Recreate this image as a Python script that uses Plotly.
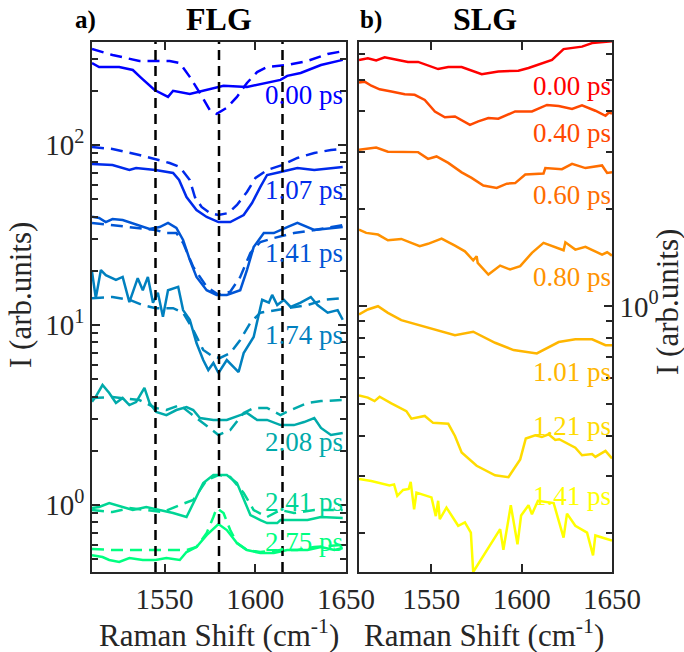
import numpy as np
import plotly.graph_objects as go

# ---------------- data ----------------
raman_ticks = [1550, 1600, 1650]
g_band_marks = [1545, 1580, 1615]

flg_delays = ["0.00 ps", "1.07 ps", "1.41 ps", "1.74 ps", "2.08 ps", "2.41 ps", "2.75 ps"]
slg_delays = ["0.00 ps", "0.40 ps", "0.60 ps", "0.80 ps", "1.01 ps", "1.21 ps", "1.41 ps"]

# FLG measured (solid) and fitted (dashed)
flg000_x = [1510, 1513.9, 1525.0, 1532.5, 1537.1, 1544.5, 1551.9, 1554.7, 1563.9, 1578.7, 1582.5, 1595.4, 1613.9, 1617.6, 1625.0, 1636.2, 1648.2]
flg000_y = [285, 271, 271, 261, 236, 202, 185, 200, 192, 207, 213, 210, 230, 242, 251, 278, 297]
flg000_fx = [1510, 1521.3, 1536.1, 1552.8, 1558.4, 1563.9, 1569.5, 1575.0, 1578.7, 1584.3, 1589.9, 1595.4, 1601.0, 1606.5, 1617.6, 1628.8, 1639.9, 1646.3]
flg000_fy = [341, 316, 293, 293, 285, 239, 194, 156, 149, 161, 185, 221, 254, 271, 278, 293, 320, 329]

flg107_x = [1510, 1521.3, 1530.6, 1534.3, 1545.0, 1551.0, 1554.7, 1558.0, 1562.1, 1567.6, 1573.2, 1579.7, 1586.2, 1593.6, 1598.2, 1602.8, 1606.5, 1613.9, 1623.2, 1632.5, 1641.7, 1648.2]
flg107_y = [78.4, 77.4, 72.6, 74.5, 72.6, 70.8, 69.9, 63.9, 51.4, 43.5, 39.8, 37.3, 37.3, 40.8, 47.6, 58.5, 68.1, 70.8, 74.5, 72.6, 74.5, 75.5]
flg107_fx = [1510, 1521.3, 1536.1, 1545.0, 1552.8, 1558.4, 1563.9, 1566.7, 1570.4, 1575.0, 1579.7, 1585.2, 1589.9, 1595.4, 1600.1, 1606.5, 1614.8, 1623.2, 1632.5, 1641.7, 1648.2]
flg107_fy = [97.5, 95, 88, 83.6, 79.4, 75.5, 63.9, 51.4, 45.3, 41.9, 40.8, 41.9, 46.4, 54.8, 65.6, 72.6, 77.4, 84.7, 90.3, 93.8, 95]

flg141_x = [1510, 1513.9, 1517.6, 1521.3, 1526.9, 1536.1, 1541.7, 1547.3, 1551.9, 1556.5, 1560.2, 1563.9, 1567.6, 1573.2, 1578.7, 1584.3, 1591.7, 1595.4, 1599.1, 1604.7, 1610.2, 1617.6, 1623.2, 1632.5, 1639.9, 1648.2]
flg141_y = [40, 39.3, 37.3, 38.8, 38.3, 35.9, 34.2, 35, 36.9, 34.6, 29.7, 23, 18.5, 15.6, 14.7, 14.7, 15.6, 20.2, 27.1, 32.4, 32.4, 35, 36.9, 33.7, 34.2, 35]
flg141_fx = [1510, 1521.3, 1536.1, 1545.0, 1551.0, 1556.5, 1560.2, 1565.8, 1573.2, 1579.7, 1586.2, 1591.7, 1597.3, 1602.8, 1610.2, 1621.3, 1632.5, 1648.2]
flg141_fy = [36.9, 35.9, 34.6, 33.7, 32.4, 32.4, 28.6, 21, 16.3, 14.7, 15.3, 18.5, 25.1, 28.9, 30.4, 32.4, 33.7, 35.9]

flg174_x = [1510, 1512.1, 1514.9, 1517.6, 1523.2, 1526.9, 1530.6, 1535.2, 1538.0, 1540.8, 1543.6, 1546.3, 1549.1, 1551.9, 1557.5, 1560.2, 1563.9, 1567.6, 1571.3, 1574.1, 1576.9, 1579.7, 1584.3, 1588.0, 1590.8, 1593.6, 1599.1, 1603.8, 1607.5, 1609.3, 1612.1, 1615.8, 1619.5, 1625.0, 1630.6, 1634.3, 1639.9, 1645.4, 1648.2]
flg174_y = [19.8, 14.1, 20.2, 18.9, 17.8, 18.5, 13.4, 18.2, 15.6, 18.5, 13.3, 15.1, 11.1, 15.6, 16.3, 12.1, 10.7, 7.94, 6.39, 5.62, 6.15, 5.41, 6.39, 5.84, 5.48, 6.98, 8.58, 13.8, 13.3, 14.7, 12.9, 13.8, 12.6, 13.3, 14.3, 12.9, 11.7, 12.1, 10.7]
flg174_fx = [1510, 1521.3, 1530.6, 1538.0, 1545.0, 1554.7, 1560.2, 1565.8, 1571.3, 1576.9, 1580.6, 1586.2, 1591.7, 1597.3, 1602.8, 1610.2, 1617.6, 1628.8, 1638.0, 1648.2]
flg174_fy = [14.1, 14.3, 13.8, 12.9, 12.4, 12.4, 11.7, 9.38, 7.27, 6.64, 6.56, 6.98, 8.26, 10.3, 11.7, 12.1, 12.4, 12.9, 13.8, 14.1]

flg208_x = [1510, 1512.1, 1515.8, 1519.5, 1523.2, 1526.9, 1530.6, 1534.3, 1538.9, 1541.7, 1545.4, 1551.0, 1556.5, 1562.1, 1565.8, 1569.5, 1576.9, 1584.3, 1591.7, 1595.4, 1601.0, 1606.5, 1613.9, 1621.3, 1626.9, 1632.5, 1636.2, 1641.7, 1648.2]
flg208_y = [3.75, 4.0, 4.64, 4.19, 3.69, 3.93, 3.59, 3.73, 4.47, 3.69, 3.29, 3.16, 3.37, 3.5, 3.37, 3.04, 2.97, 2.97, 3.16, 3.25, 2.97, 2.97, 2.78, 2.78, 2.89, 3.04, 2.68, 2.45, 2.51]
flg208_fx = [1510, 1521.3, 1536.1, 1545.0, 1551.0, 1558.4, 1563.9, 1571.3, 1579.7, 1586.2, 1593.6, 1599.1, 1606.5, 1613.9, 1619.5, 1628.8, 1636.2, 1648.2]
flg208_fy = [3.93, 3.98, 3.83, 3.46, 3.37, 3.59, 3.25, 2.86, 2.45, 2.61, 3.25, 3.46, 3.46, 3.16, 3.37, 3.69, 3.78, 3.83]

flg241_x = [1510, 1513.9, 1519.5, 1526.9, 1532.5, 1539.9, 1547.3, 1554.7, 1562.1, 1565.8, 1571.3, 1576.9, 1584.3, 1589.9, 1593.6, 1597.3, 1602.8, 1606.5, 1612.1, 1613.9, 1621.3, 1628.8, 1636.2, 1643.6, 1648.2]
flg241_y = [0.962, 0.975, 1.026, 0.975, 0.938, 0.975, 0.938, 0.903, 0.858, 1.026, 1.325, 1.468, 1.468, 1.325, 1.066, 0.880, 0.825, 0.794, 0.794, 0.825, 0.825, 0.825, 0.858, 0.847, 0.847]
flg241_fx = [1510, 1521.3, 1530.6, 1539.9, 1549.1, 1558.4, 1565.8, 1573.2, 1579.7, 1586.2, 1593.6, 1599.1, 1606.5, 1613.9, 1621.3, 1632.5, 1648.2]
flg241_fy = [0.938, 0.914, 0.962, 0.938, 0.914, 1.0, 1.066, 1.377, 1.468, 1.431, 1.166, 0.938, 0.858, 0.938, 0.903, 0.938, 0.938]

flg275_x = [1510, 1515.8, 1519.5, 1525.0, 1530.6, 1538.0, 1545.0, 1551.0, 1558.4, 1562.1, 1567.6, 1573.2, 1579.7, 1584.3, 1589.9, 1595.4, 1602.8, 1610.2, 1617.6, 1628.8, 1636.2, 1643.6, 1648.2]
flg275_y = [0.527, 0.514, 0.495, 0.483, 0.508, 0.495, 0.495, 0.508, 0.495, 0.548, 0.585, 0.681, 0.784, 0.726, 0.615, 0.562, 0.541, 0.541, 0.562, 0.562, 0.585, 0.562, 0.577]
flg275_fx = [1510, 1521.3, 1539.9, 1554.7, 1562.1, 1567.6, 1573.2, 1576.9, 1578.7, 1582.5, 1586.2, 1589.9, 1595.4, 1602.8, 1613.9, 1623.2, 1632.5, 1648.2]
flg275_fy = [0.570, 0.562, 0.562, 0.562, 0.562, 0.585, 0.699, 0.858, 0.962, 0.903, 0.726, 0.615, 0.562, 0.548, 0.562, 0.562, 0.585, 0.600]

# SLG measured spectra
slg000_x = [1510, 1514.9, 1519.5, 1524.2, 1531.6, 1537.1, 1542.7, 1553.8, 1559.4, 1566.8, 1577.9, 1587.1, 1598.2, 1603.8, 1616.8, 1623.2, 1633.4, 1639.0, 1648.3, 1650]
slg000_y = [5.75, 5.82, 5.73, 5.86, 5.75, 5.67, 5.67, 5.39, 5.47, 5.47, 5.2, 5.3, 5.33, 5.43, 5.75, 6.21, 6.32, 6.48, 6.55, 6.57]

slg040_x = [1510, 1513.1, 1516.8, 1521.4, 1527.9, 1535.3, 1540.8, 1546.4, 1552.0, 1557.5, 1563.1, 1571.4, 1576.0, 1581.6, 1587.1, 1596.4, 1605.7, 1614.0, 1620.5, 1627.9, 1633.4, 1640.8, 1646.4, 1648.3, 1650]
slg040_y = [4.9, 4.93, 4.79, 4.67, 4.6, 4.51, 4.49, 4.33, 3.99, 3.83, 3.85, 3.63, 3.72, 3.81, 3.79, 3.99, 3.99, 4.18, 4.15, 4.06, 4.17, 4.01, 3.87, 3.96, 3.93]

slg060_x = [1510, 1514.9, 1519.5, 1526.0, 1535.3, 1542.7, 1548.2, 1552.9, 1559.4, 1566.8, 1572.3, 1578.8, 1586.2, 1591.8, 1596.4, 1602.0, 1612.1, 1613.1, 1622.3, 1627.9, 1635.3, 1644.5, 1647.3, 1650]
slg060_y = [3.04, 3.06, 3.09, 3.0, 2.99, 2.99, 2.85, 2.9, 2.77, 2.59, 2.49, 2.36, 2.32, 2.39, 2.4, 2.55, 2.57, 2.67, 2.65, 2.75, 2.67, 2.72, 2.58, 2.59]

slg080_x = [1510, 1514.0, 1520.5, 1526.0, 1533.4, 1543.6, 1548.2, 1555.7, 1563.1, 1568.6, 1573.2, 1575.1, 1575.7, 1581.6, 1588.1, 1593.6, 1599.2, 1605.7, 1612.1, 1623.2, 1624.2, 1629.7, 1635.3, 1644.5, 1647.3, 1650]
slg080_y = [1.726, 1.686, 1.666, 1.6, 1.615, 1.533, 1.56, 1.619, 1.54, 1.479, 1.388, 1.428, 1.362, 1.254, 1.337, 1.3, 1.331, 1.463, 1.57, 1.49, 1.577, 1.497, 1.527, 1.445, 1.469, 1.435]

slg101_x = [1510, 1514.9, 1520.5, 1526.0, 1533.4, 1544.5, 1553.8, 1563.1, 1573.2, 1585.3, 1595.5, 1608.4, 1620.5, 1629.7, 1639.0, 1646.4, 1650]
slg101_y = [0.945, 0.979, 1.002, 0.956, 0.908, 0.874, 0.846, 0.816, 0.836, 0.773, 0.734, 0.717, 0.777, 0.792, 0.792, 0.76, 0.76]

slg121_x = [1510, 1514.9, 1518.6, 1521.4, 1527.9, 1536.2, 1539.0, 1546.4, 1551.0, 1559.4, 1563.1, 1566.8, 1575.1, 1585.3, 1592.7, 1599.2, 1602.3, 1607.5, 1611.2, 1614.9, 1618.6, 1620.8, 1629.7, 1633.4, 1639.0, 1640.8, 1646.4, 1650]
slg121_y = [0.532, 0.524, 0.511, 0.527, 0.503, 0.476, 0.451, 0.46, 0.438, 0.435, 0.399, 0.355, 0.323, 0.302, 0.298, 0.338, 0.392, 0.401, 0.396, 0.404, 0.388, 0.39, 0.367, 0.348, 0.351, 0.344, 0.359, 0.34]

slg141_x = [1510, 1516.8, 1526.9, 1529.4, 1531.2, 1534.4, 1537.5, 1538.6, 1540.5, 1541.8, 1550.1, 1552.5, 1553.8, 1554.7, 1558.4, 1564.9, 1568.6, 1571.9, 1573.2, 1581.6, 1588.1, 1589.9, 1594.0, 1597.7, 1599.7, 1603.8, 1605.7, 1609.0, 1613.1, 1617.7, 1623.2, 1625.1, 1629.7, 1636.2, 1639.5, 1640.8, 1650]
slg141_y = [0.294, 0.29, 0.281, 0.283, 0.261, 0.272, 0.274, 0.288, 0.237, 0.267, 0.258, 0.226, 0.252, 0.221, 0.24, 0.211, 0.216, 0.201, 0.152, 0.181, 0.206, 0.178, 0.244, 0.185, 0.227, 0.244, 0.229, 0.252, 0.25, 0.248, 0.194, 0.23, 0.211, 0.201, 0.171, 0.197, 0.19]

# label levels (intensity at which each delay label sits)
flg_label_level = [190, 56, 25, 8.8, 2.24, 1.04, 0.62]
slg_label_level = [4.79, 3.43, 2.21, 1.236, 0.627, 0.428, 0.26]

flg_colors = ["#0000ff", "#002beb", "#0055d5", "#0080bf", "#00aaaa", "#00d595", "#00ff80"]
slg_colors = ["#ff0000", "#ff4900", "#ff6d00", "#ff9200", "#ffb600", "#ffdb00", "#ffff00"]

flg_meas = [(flg000_x, flg000_y), (flg107_x, flg107_y), (flg141_x, flg141_y), (flg174_x, flg174_y),
            (flg208_x, flg208_y), (flg241_x, flg241_y), (flg275_x, flg275_y)]
flg_fit = [(flg000_fx, flg000_fy), (flg107_fx, flg107_fy), (flg141_fx, flg141_fy), (flg174_fx, flg174_fy),
           (flg208_fx, flg208_fy), (flg241_fx, flg241_fy), (flg275_fx, flg275_fy)]
slg_meas = [(slg000_x, slg000_y), (slg040_x, slg040_y), (slg060_x, slg060_y), (slg080_x, slg080_y),
            (slg101_x, slg101_y), (slg121_x, slg121_y), (slg141_x, slg141_y)]

# ---------------- figure ----------------
SERIF = "Liberation Serif"
INK = "#262626"
W, H = 684, 652

fig = go.Figure()
for (x, y), (fx, fy), c, name in zip(flg_meas, flg_fit, flg_colors, flg_delays):
    fig.add_trace(go.Scatter(x=fx, y=fy, mode="lines", line=dict(color=c, width=2.5, dash="12px,7px"),
                             xaxis="x", yaxis="y", showlegend=False, name=name + " fit"))
    fig.add_trace(go.Scatter(x=x, y=y, mode="lines", line=dict(color=c, width=2.5),
                             xaxis="x", yaxis="y", showlegend=False, name=name))
for (x, y), c, name in zip(slg_meas, slg_colors, slg_delays):
    fig.add_trace(go.Scatter(x=x, y=y, mode="lines", line=dict(color=c, width=2.5),
                             xaxis="x2", yaxis="y2", showlegend=False, name=name))

for v in g_band_marks:
    fig.add_shape(type="line", xref="x", yref="y domain", x0=v, x1=v, y0=0, y1=1,
                  line=dict(color="black", width=2.5, dash="10px,6px"))

# panel geometry in pixels
L_x0, L_x1 = 92, 346
R_x0, R_x1 = 359, 612
P_top, P_bot = 42, 572
dom_y = [(H - P_bot) / H, (H - P_top) / H]

axis_common = dict(showline=True, linecolor=INK, linewidth=1.5, mirror="allticks", automargin=False,
                   ticks="inside", ticklen=8, tickwidth=1.5, tickcolor=INK, showgrid=False,
                   zeroline=False, tickfont=dict(family=SERIF, size=29, color=INK))

left_minor = [0.5, 0.6, 0.7, 0.8, 0.9, 2, 3, 4, 5, 6, 7, 8, 9, 20, 30, 40, 50, 60, 70, 80, 90, 200, 300]
right_minor = [0.2, 0.3, 0.4, 0.5, 0.6, 0.7, 0.8, 0.9, 2, 3, 4, 5, 6]

fig.update_layout(
    width=W, height=H, autosize=False, margin=dict(l=0, r=0, t=0, b=0),
    paper_bgcolor="white", plot_bgcolor="white",
    font=dict(family=SERIF, color=INK),
    xaxis=dict(domain=[L_x0 / W, L_x1 / W], range=[1510, 1650], tickmode="array",
               tickvals=raman_ticks, anchor="y", **axis_common),
    xaxis2=dict(domain=[R_x0 / W, R_x1 / W], range=[1510, 1650], tickmode="array",
                tickvals=raman_ticks, anchor="y2", **axis_common),
    yaxis=dict(domain=dom_y, type="log", range=[-0.372, 2.572], anchor="x",
               tickmode="array", tickvals=[1, 10, 100],
               ticktext=["10<sup>0</sup>", "10<sup>1</sup>", "10<sup>2</sup>"],
               minor=dict(tickmode="array", tickvals=left_minor, ticks="inside", ticklen=6,
                          tickwidth=1.5, tickcolor=INK, showgrid=False),
               **axis_common),
    yaxis2=dict(domain=dom_y, type="log", range=[np.log10(0.152), 0.815], anchor="x2", side="right",
                tickmode="array", tickvals=[1], ticktext=["10<sup>0</sup>"],
                minor=dict(tickmode="array", tickvals=right_minor, ticks="inside", ticklen=6,
                           tickwidth=1.5, tickcolor=INK, showgrid=False),
                **axis_common),
)

ann = []
for name, lvl, c in zip(flg_delays, flg_label_level, flg_colors):
    ann.append(dict(x=1650, y=np.log10(lvl), xref="x", yref="y", text=name, showarrow=False,
                    xanchor="right", yanchor="middle", xshift=-1,
                    font=dict(family=SERIF, size=27, color=c)))
for name, lvl, c in zip(slg_delays, slg_label_level, slg_colors):
    ann.append(dict(x=1650, y=np.log10(lvl), xref="x2", yref="y2", text=name, showarrow=False,
                    xanchor="right", yanchor="middle", xshift=1,
                    font=dict(family=SERIF, size=27, color=c)))

def px(xp, yp):
    return xp / W, (H - yp) / H

for text, (xp, yp), size, bold, rot in [
    ("FLG", (219, 19), 32, True, 0),
    ("SLG", (485, 19), 32, True, 0),
    ("a)", (85, 20), 25, True, 0),
    ("b)", (371, 20), 25, True, 0),
    ("Raman Shift (cm<sup>-1</sup>)", (219, 633), 31, False, 0),
    ("Raman Shift (cm<sup>-1</sup>)", (484, 633), 31, False, 0),
    ("I (arb.units)", (20, 295), 31, False, -90),
    ("I (arb.units)", (667, 302), 31, False, -90),
]:
    xr, yr = px(xp, yp)
    ann.append(dict(x=xr, y=yr, xref="paper", yref="paper", showarrow=False,
                    text=f"<b>{text}</b>" if bold else text, textangle=rot,
                    xanchor="center", yanchor="middle",
                    font=dict(family=SERIF, size=size, color="black" if bold else INK)))

fig.update_layout(annotations=ann)
fig.write_html("out.html", config={"displayModeBar": False})
